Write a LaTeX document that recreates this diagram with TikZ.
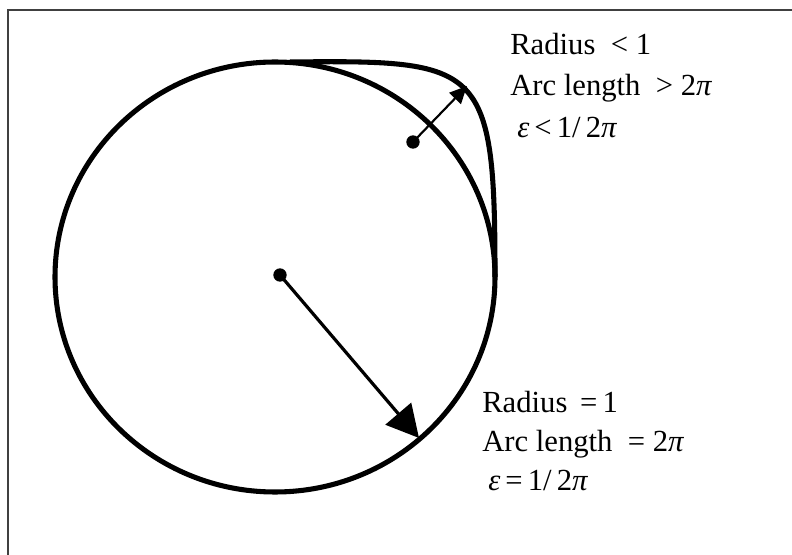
\documentclass[tikz,border=0pt]{standalone}
\usepackage{fontspec}
\setmainfont{Liberation Serif}
\usetikzlibrary{arrows.meta}

\begin{document}
\begin{tikzpicture}[x=0.75pt,y=-0.75pt,
    dot/.style={circle,fill=black,inner sep=0pt,minimum size=10pt},
    lbl/.style={anchor=base west,inner sep=0pt,font=\fontsize{23}{28}\selectfont},
    bigarrow/.style={line width=2.4pt,-{Triangle[length=24pt,width=25pt]}},
    smallarrow/.style={line width=1.6pt,-{Triangle[length=13pt,width=12pt]}}]
        \useasboundingbox (0,0) rectangle (792,555);
        \draw[line width=1.6pt,black!75] (8,555) -- (8,10) -- (792,10);

        % unit circle
        \coordinate (c) at (275,277);
        \draw[line width=3.8pt] (c) ellipse [x radius=220,y radius=215];
        \node[dot] (centre) at (280,275) {};
        \coordinate (rimpt) at (419,438);
        \draw[bigarrow] (centre.center) -- (rimpt);

        % squashed curve
        \draw[line width=3.8pt] (290,62) .. controls (482,60) and (495,63) .. (495,277);
        \node[dot] (innerpt) at (413,142) {};
        \coordinate (outertip) at (467,86);
        \draw[smallarrow] (innerpt.center) -- (outertip);

        \node[lbl] (rad1) at (510,55) {Radius\ \ <\ 1};
        \node[lbl] (arc1) at (510,96) {Arc length\ \ >\ 2{\itshape π}};
        \node[lbl] (eps1) at (517,138) {{\itshape ε}\,<\,1/\,2{\itshape π}};

        \node[lbl] (rad2) at (482,413) {Radius\ \,=\,1};
        \node[lbl] (arc2) at (482,452) {Arc length\ \ =\ 2{\itshape π}};
        \node[lbl] (eps2) at (488,490) {{\itshape ε}\,=\,1/\,2{\itshape π}};
    \end{tikzpicture}
\end{document}
